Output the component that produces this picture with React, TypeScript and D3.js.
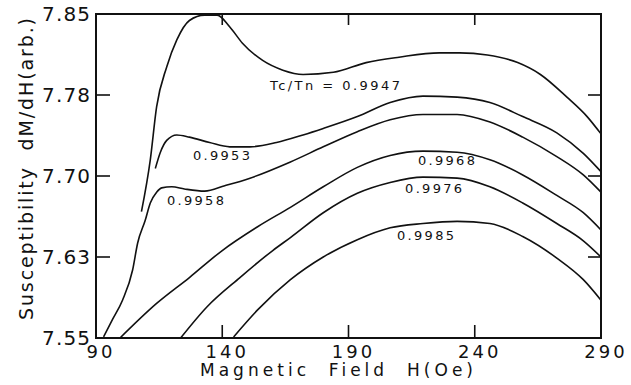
import React from "react";
import * as d3 from "d3";

// Susceptibility dM/dH vs magnetic field, one curve per Tc/Tn ratio
const h9947 = [108, 111.5, 114, 118, 122, 127, 133, 138, 143, 148, 156, 164, 172, 184, 197, 210, 226, 234, 245, 257, 266, 276.5, 284.5, 290];
const m9947 = [7.667, 7.715, 7.764, 7.801, 7.826, 7.844, 7.849, 7.849, 7.838, 7.823, 7.807, 7.798, 7.794, 7.796, 7.805, 7.81, 7.814, 7.814, 7.812, 7.805, 7.794, 7.773, 7.755, 7.739];

const h9953 = [113.5, 115.5, 118, 122, 127, 135, 143, 151, 161.5, 172, 180, 193.5, 206.5, 219.5, 233, 246, 259, 272.5, 283, 290];
const m9953 = [7.707, 7.722, 7.733, 7.738, 7.736, 7.731, 7.727, 7.727, 7.731, 7.738, 7.744, 7.755, 7.768, 7.774, 7.773, 7.768, 7.755, 7.74, 7.721, 7.704];

const h9958 = [93, 96.5, 100.5, 104.5, 106.5, 109.5, 111.5, 114, 116, 120, 125, 133, 141, 151, 167, 180, 193.5, 206.5, 219.5, 233, 246, 259, 272.5, 283, 290];
const m9958 = [7.551, 7.567, 7.585, 7.613, 7.638, 7.659, 7.675, 7.685, 7.689, 7.69, 7.688, 7.686, 7.691, 7.698, 7.713, 7.727, 7.741, 7.752, 7.757, 7.757, 7.75, 7.736, 7.718, 7.701, 7.685];

const h9968 = [99.5, 114, 127, 140, 154, 167, 180, 193.5, 206.5, 219.5, 233, 246, 259, 272.5, 283, 290];
const m9968 = [7.55, 7.582, 7.606, 7.631, 7.653, 7.671, 7.69, 7.708, 7.719, 7.723, 7.722, 7.715, 7.701, 7.682, 7.666, 7.65];

const h9976 = [123.5, 134, 147, 160, 167, 180, 193.5, 206.5, 219.5, 233, 246, 259, 272.5, 283, 290];
const m9976 = [7.55, 7.579, 7.606, 7.631, 7.643, 7.666, 7.684, 7.694, 7.699, 7.698, 7.69, 7.675, 7.656, 7.64, 7.625];

const h9985 = [144.5, 154, 167, 180, 193.5, 206.5, 219.5, 233, 246, 259, 272.5, 283, 290];
const m9985 = [7.551, 7.576, 7.604, 7.625, 7.641, 7.652, 7.656, 7.658, 7.656, 7.644, 7.624, 7.604, 7.585];

const curves = [
  [h9947, m9947],
  [h9953, m9953],
  [h9958, m9958],
  [h9968, m9968],
  [h9976, m9976],
  [h9985, m9985],
];

// curve labels: text, field at text start, value at baseline
const labelText = ["Tc/Tn = 0.9947", "0.9953", "0.9958", "0.9968", "0.9976", "0.9985"];
const labelH = [158.9, 128.4, 118.1, 217.5, 212.4, 209.2];
const labelM = [7.78, 7.715, 7.673, 7.71, 7.684, 7.641];

const xTicks = [90, 140, 190, 240, 290];
const yTicks = [7.55, 7.625, 7.7, 7.775, 7.85];
const yTickLabels = ["7.55", "7.63", "7.70", "7.78", "7.85"];

const W = 631;
const H = 385;
const margin = { top: 14, right: 30, bottom: 47, left: 96 };
const font = "'DejaVu Sans', sans-serif";

export default function App() {
  const x = d3.scaleLinear().domain([90, 290]).range([margin.left, W - margin.right]);
  const y = d3.scaleLinear().domain([7.55, 7.85]).range([H - margin.bottom, margin.top]);

  const line = d3
    .line<[number, number]>()
    .x((d) => x(d[0]))
    .y((d) => y(d[1]))
    .curve(d3.curveMonotoneX);

  const x0 = x(90), x1 = x(290), y0 = y(7.55), y1 = y(7.85);
  const innerX = xTicks.slice(1, -1);
  const innerY = yTicks.slice(1, -1);

  return (
    <svg width={W} height={H} style={{ position: "absolute", left: 0, top: 0, background: "#fff" }}>
      <g stroke="#111" strokeWidth={1.6} fill="none" strokeLinejoin="round">
        {curves.map(([hs, ms], i) => (
          <path key={i} d={line(hs.map((h, j) => [h, ms[j]] as [number, number])) || ""} />
        ))}
      </g>

      <rect x={x0} y={y1} width={x1 - x0} height={y0 - y1} fill="none" stroke="#111" strokeWidth={2} />
      <g stroke="#111" strokeWidth={1.6}>
        {innerX.map((t) => (
          <g key={"xt" + t}>
            <line x1={x(t)} x2={x(t)} y1={y0} y2={y0 - 13} />
            <line x1={x(t)} x2={x(t)} y1={y1} y2={y1 + 11} />
          </g>
        ))}
        {innerY.map((t) => (
          <g key={"yt" + t}>
            <line x1={x0} x2={x0 + 14} y1={y(t)} y2={y(t)} />
            <line x1={x1} x2={x1 - 13} y1={y(t)} y2={y(t)} />
          </g>
        ))}
      </g>

      <g fontFamily={font} fill="#111">
        {yTicks.map((t, i) => (
          <text key={"yl" + t} x={x0 - 6} y={y(t)} dy="0.36em" textAnchor="end" fontSize={20}
            textLength={48} lengthAdjust="spacing">
            {yTickLabels[i]}
          </text>
        ))}
        {xTicks.map((t) => (
          <text key={"xl" + t} x={x(t) + 5} y={358} textAnchor="middle" fontSize={18} letterSpacing={3}>
            {t}
          </text>
        ))}
        {labelText.map((s, i) => (
          <text key={s} x={x(labelH[i])} y={y(labelM[i])} fontSize={13}
            textLength={i === 0 ? 130 : 57} lengthAdjust="spacing">
            {s}
          </text>
        ))}
        <text x={200} y={376} fontSize={17} textLength={273} lengthAdjust="spacing">
          {"Magnetic\u00a0\u00a0Field\u00a0\u00a0H(Oe)"}
        </text>
        <text transform="translate(33,169) rotate(-90)" textAnchor="middle" fontSize={19}
          textLength={302} lengthAdjust="spacing">
          {"Susceptibility\u00a0\u00a0dM/dH(arb.)"}
        </text>
      </g>
    </svg>
  );
}
